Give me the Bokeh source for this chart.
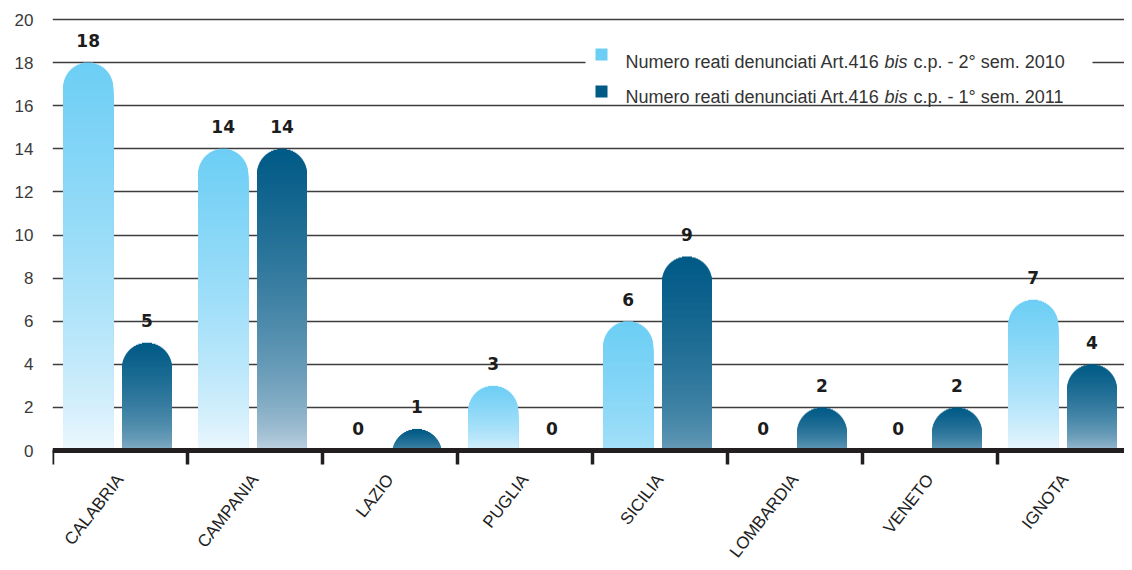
import math
import numpy as np
from bokeh.plotting import figure
from bokeh.models import Range1d, FixedTicker, ColumnDataSource
from bokeh.core.properties import value
from bokeh.embed import file_html
from bokeh.resources import INLINE

# ---------------- data ----------------
categories = ["CALABRIA", "CAMPANIA", "LAZIO", "PUGLIA", "SICILIA", "LOMBARDIA", "VENETO", "IGNOTA"]
sem2_2010 = [18, 14, 0, 3, 6, 0, 0, 7]
sem1_2011 = [5, 14, 1, 0, 9, 2, 2, 4]
y_ticks = [0, 2, 4, 6, 8, 10, 12, 14, 16, 18, 20]
legend_prefix = "Numero reati denunciati Art.416"
legend_italic = "bis"
legend_suffix = ["c.p. - 2° sem. 2010", "c.p. - 1° sem. 2011"]

# ---------------- styles / layout ----------------
W, H = 1124, 562
FRAME_LEFT = 52.0
PX_X = 135.0          # px per category
PX_Y = 21.55         # px per unit
Y0 = 450.0
BAR_R = 25.0         # half bar width / cap radius in px
OFF_LIGHT, OFF_DARK = -0.2356, 0.200

LIGHT_TOP, LIGHT_PALE = (109, 206, 245), (242, 249, 254)
DARK_TOP, DARK_PALE = (0, 90, 134), (205, 219, 232)
light_fade = {"CALABRIA": 1.0, "CAMPANIA": 1.0, "PUGLIA": 0.85, "SICILIA": 0.45, "IGNOTA": 1.0}
dark_fade = {"CALABRIA": 0.72, "CAMPANIA": 1.0, "LAZIO": 0.45, "SICILIA": 0.55,
             "LOMBARDIA": 0.6, "VENETO": 0.6, "IGNOTA": 0.85}


def px2x(px):
    return (px - FRAME_LEFT) / PX_X


def px2y(py):
    return (Y0 - py) / PX_Y


def hexc(rgb):
    return "#%02x%02x%02x" % tuple(int(round(max(0, min(255, c)))) for c in rgb)


def bar_slices(xc, v, top, pale, fade, gamma, out):
    if v <= 0:
        return
    bot = tuple(t + (p - t) * fade for t, p in zip(top, pale))
    hpx = v * PX_Y
    for y in np.arange(hpx, 0, -1.0):
        ym = max(y - 0.5, 0.0)
        if ym > hpx - BAR_R:
            dy = ym - (hpx - BAR_R)
            half = math.sqrt(max(BAR_R ** 2 - dy ** 2, 0.0))
        else:
            half = BAR_R
        f = (y / hpx) ** gamma
        col = tuple(b + (tp - b) * f for b, tp in zip(bot, top))
        hw = half / PX_X
        out["left"].append(xc - hw)
        out["right"].append(xc + hw)
        out["bottom"].append(0.0)
        out["top"].append(y / PX_Y)
        out["color"].append(hexc(col))


p = figure(width=W, height=H, output_backend="svg", toolbar_location=None,
           x_range=Range1d(0, px2x(W)),
           y_range=Range1d(px2y(H), px2y(0)),
           x_axis_location=None, y_axis_location="left",
           min_border_left=int(FRAME_LEFT), min_border_right=0, min_border_top=0, min_border_bottom=0)
p.outline_line_color = None
p.background_fill_color = "white"
p.border_fill_color = "white"

p.xgrid.visible = False
p.ygrid.ticker = FixedTicker(ticks=y_ticks)
p.ygrid.grid_line_color = "#3d3d3d"
p.ygrid.grid_line_width = 1.3

ax = p.yaxis[0]
ax.ticker = FixedTicker(ticks=y_ticks)
ax.axis_line_color = None
ax.major_tick_line_color = None
ax.minor_tick_line_color = None
ax.major_tick_out = 0
ax.major_tick_in = 0
ax.major_label_standoff = 19
ax.major_label_text_font = "Liberation Sans"
ax.major_label_text_font_size = "17px"
ax.major_label_text_color = "#3a3a3a"

# ---------------- bars ----------------
slices = {"left": [], "right": [], "bottom": [], "top": [], "color": []}
lab_x, lab_y, lab_t = [], [], []
for i, cat in enumerate(categories):
    xl = i + 0.5 + OFF_LIGHT
    xd = i + 0.5 + OFF_DARK
    bar_slices(xl, sem2_2010[i], LIGHT_TOP, LIGHT_PALE, light_fade.get(cat, 1.0), 0.69, slices)
    bar_slices(xd, sem1_2011[i], DARK_TOP, DARK_PALE, dark_fade.get(cat, 1.0), 0.55, slices)
    for xc, v in ((xl, sem2_2010[i]), (xd, sem1_2011[i])):
        lab_x.append(xc)
        lab_y.append(v + 22.0 / PX_Y)
        lab_t.append(str(v))

p.quad(left="left", right="right", bottom="bottom", top="top", fill_color="color",
       line_color=None, source=ColumnDataSource(slices))

p.text(x=lab_x, y=lab_y, text=lab_t, text_align="center", text_baseline="middle",
       text_font=value("DejaVu Sans"), text_font_style="bold",
       text_font_size=value("17px"), text_color="#1c1c1c")

# ---------------- x axis (drawn) ----------------
bounds = list(range(len(categories) + 1))
p.segment(x0=[0], y0=[0], x1=[len(categories)], y1=[0], line_width=5, line_color="#231f20")
p.segment(x0=bounds, y0=[0] * len(bounds), x1=bounds, y1=[-14.0 / PX_Y] * len(bounds),
          line_width=3.5, line_color="#231f20")
p.text(x=[i + 0.5 for i in range(len(categories))], y=[px2y(476)] * len(categories),
       text=categories, angle=math.radians(52), text_align="right", text_baseline="middle",
       text_font=value("Liberation Sans"), text_font_size=value("17px"), text_color="#222222")

# ---------------- legend (drawn) ----------------
p.quad(left=[px2x(585)], right=[px2x(1092)], bottom=[px2y(101)], top=[px2y(36)],
       fill_color="white", line_color=None)
sq_tops = [48, 85]
baselines = [61.7, 96.0]
sq_cols = [hexc(LIGHT_TOP), hexc(DARK_TOP)]
p.quad(left=[px2x(595)] * 2, right=[px2x(607)] * 2,
       bottom=[px2y(t + 12) for t in sq_tops], top=[px2y(t) for t in sq_tops],
       fill_color=sq_cols, line_color=None)
for k, suf in enumerate(legend_suffix):
    yb = px2y(baselines[k])
    common = dict(text_align="left", text_baseline="alphabetic",
                  text_font=value("Liberation Sans"), text_font_size=value("18px"),
                  text_color="#333333")
    p.text(x=[px2x(625)], y=[yb], text=[legend_prefix], **common)
    p.text(x=[px2x(884)], y=[yb], text=[legend_italic], text_font_style="italic", **common)
    p.text(x=[px2x(913)], y=[yb], text=[suf], **common)

open("out.html", "w").write(file_html(p, INLINE))
